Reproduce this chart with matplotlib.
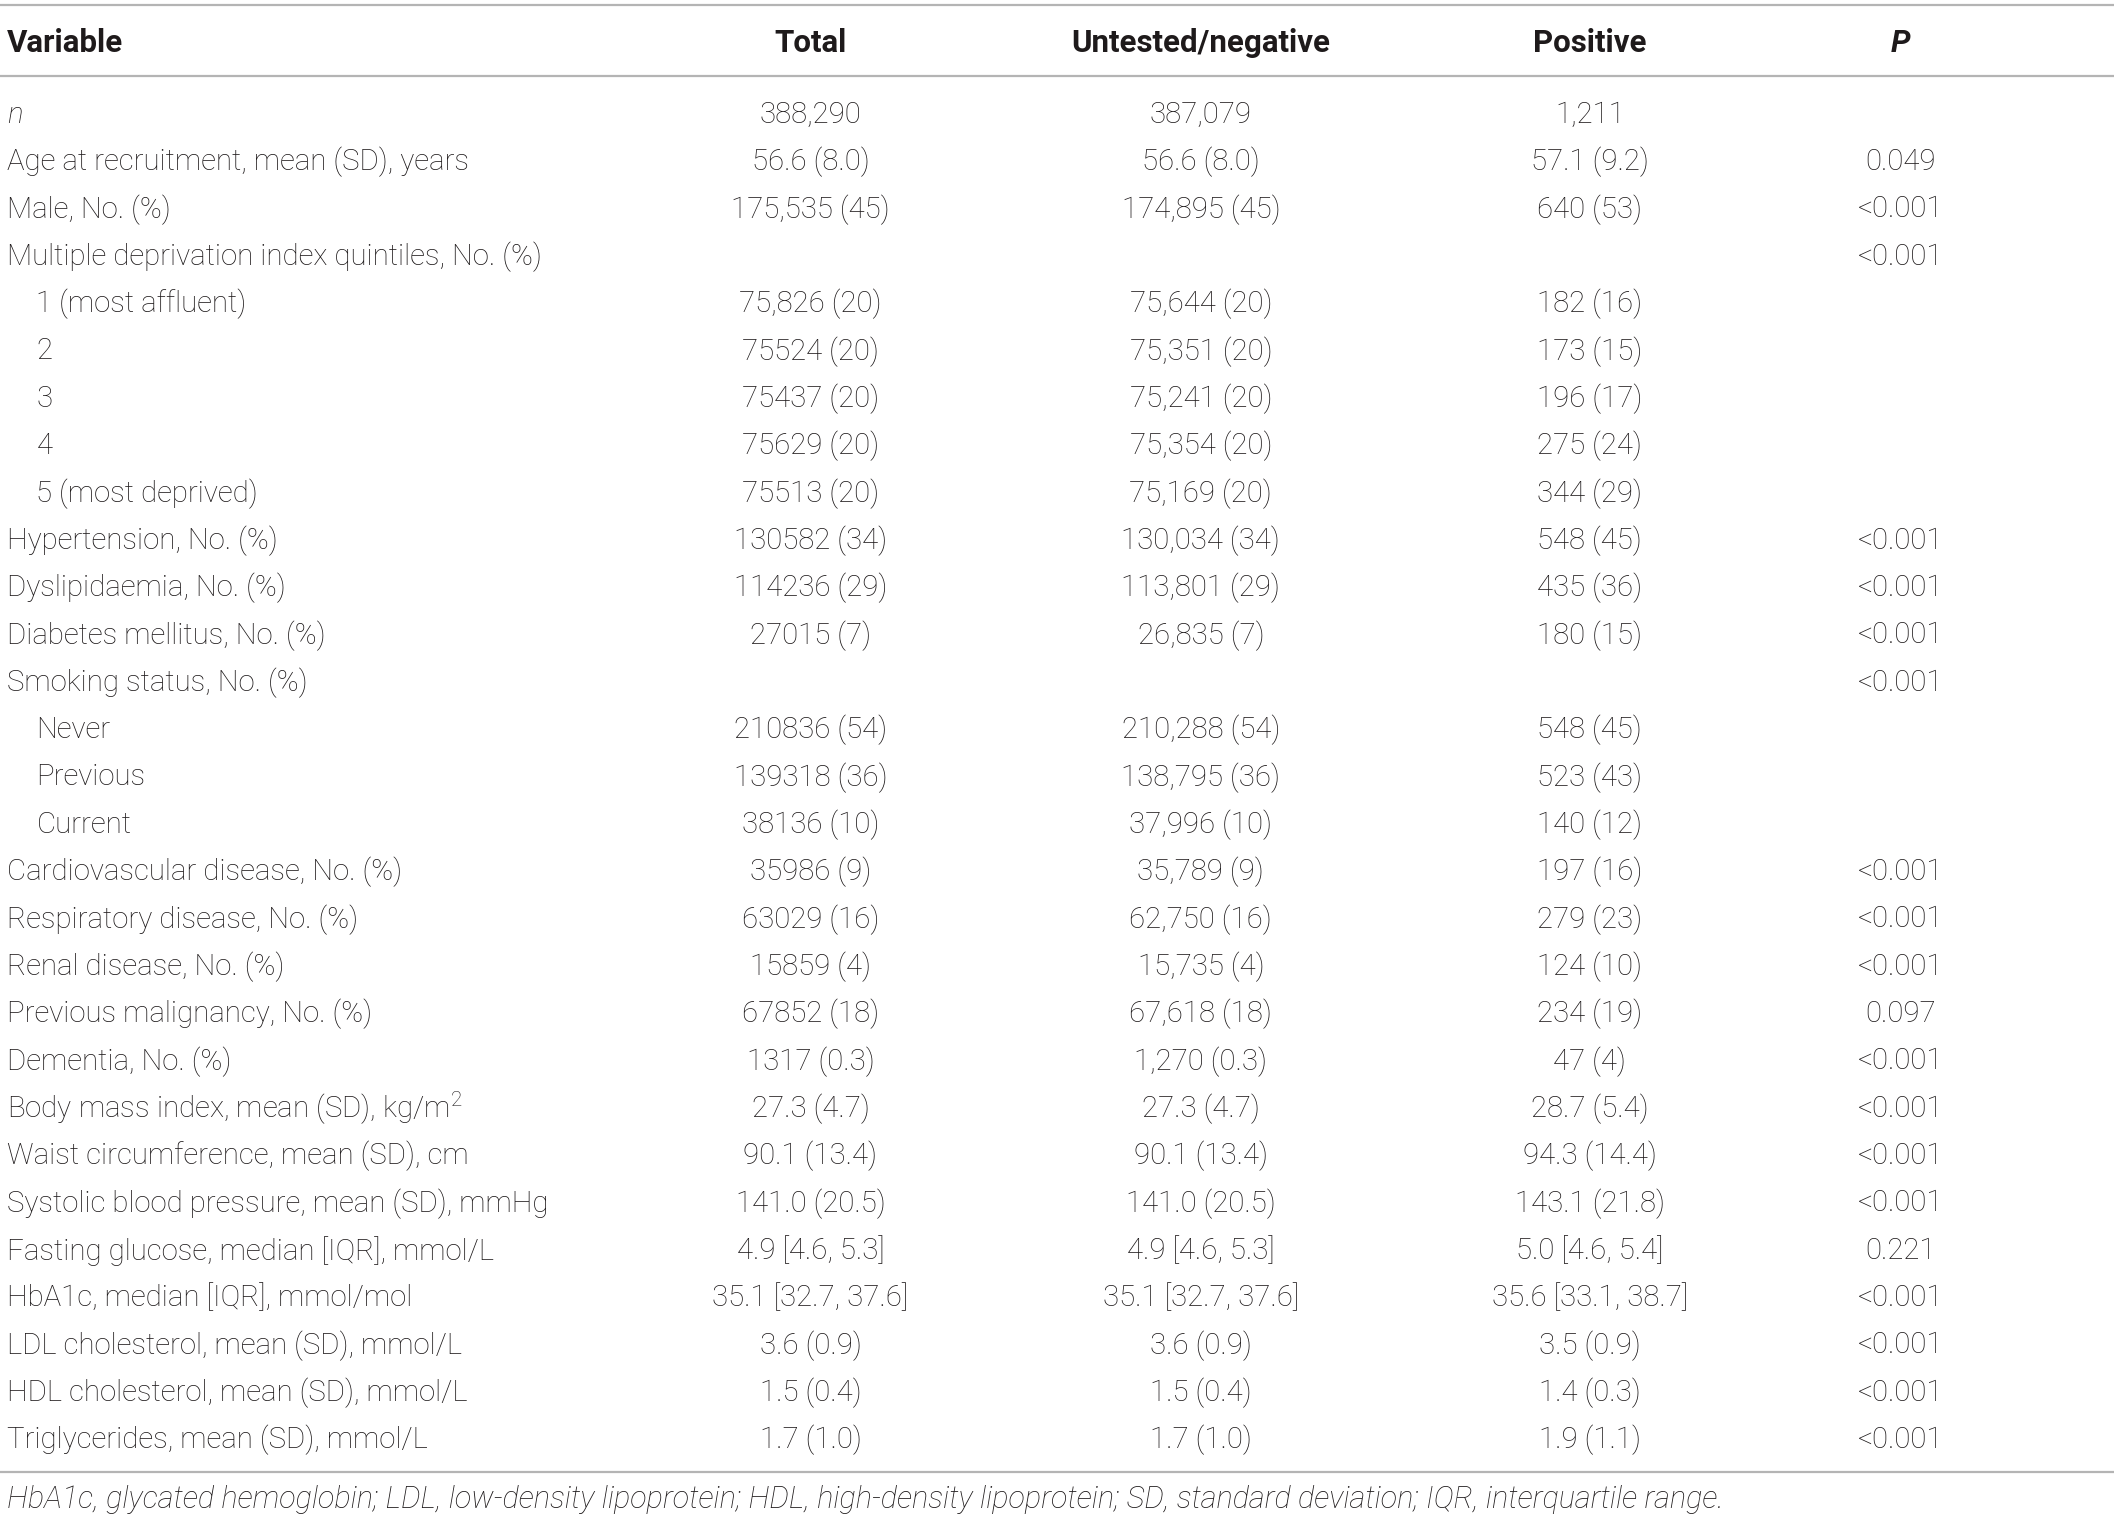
import matplotlib.pyplot as plt

# table content
headers = ["Variable", "Total", "Untested/negative", "Positive", "P"]

variables = [
    "n", "Age at recruitment, mean (SD), years", "Male, No. (%)",
    "Multiple deprivation index quintiles, No. (%)",
    "1 (most affluent)", "2", "3", "4", "5 (most deprived)",
    "Hypertension, No. (%)", "Dyslipidaemia, No. (%)", "Diabetes mellitus, No. (%)",
    "Smoking status, No. (%)", "Never", "Previous", "Current",
    "Cardiovascular disease, No. (%)", "Respiratory disease, No. (%)",
    "Renal disease, No. (%)", "Previous malignancy, No. (%)", "Dementia, No. (%)",
    "Body mass index, mean (SD), kg/m$^2$", "Waist circumference, mean (SD), cm",
    "Systolic blood pressure, mean (SD), mmHg", "Fasting glucose, median [IQR], mmol/L",
    "HbA1c, median [IQR], mmol/mol", "LDL cholesterol, mean (SD), mmol/L",
    "HDL cholesterol, mean (SD), mmol/L", "Triglycerides, mean (SD), mmol/L",
]
sub_rows = ["1 (most affluent)", "2", "3", "4", "5 (most deprived)",
            "Never", "Previous", "Current"]

total = [
    "388,290", "56.6 (8.0)", "175,535 (45)", "",
    "75,826 (20)", "75524 (20)", "75437 (20)", "75629 (20)", "75513 (20)",
    "130582 (34)", "114236 (29)", "27015 (7)", "",
    "210836 (54)", "139318 (36)", "38136 (10)",
    "35986 (9)", "63029 (16)", "15859 (4)", "67852 (18)", "1317 (0.3)",
    "27.3 (4.7)", "90.1 (13.4)", "141.0 (20.5)", "4.9 [4.6, 5.3]",
    "35.1 [32.7, 37.6]", "3.6 (0.9)", "1.5 (0.4)", "1.7 (1.0)",
]
untested = [
    "387,079", "56.6 (8.0)", "174,895 (45)", "",
    "75,644 (20)", "75,351 (20)", "75,241 (20)", "75,354 (20)", "75,169 (20)",
    "130,034 (34)", "113,801 (29)", "26,835 (7)", "",
    "210,288 (54)", "138,795 (36)", "37,996 (10)",
    "35,789 (9)", "62,750 (16)", "15,735 (4)", "67,618 (18)", "1,270 (0.3)",
    "27.3 (4.7)", "90.1 (13.4)", "141.0 (20.5)", "4.9 [4.6, 5.3]",
    "35.1 [32.7, 37.6]", "3.6 (0.9)", "1.5 (0.4)", "1.7 (1.0)",
]
positive = [
    "1,211", "57.1 (9.2)", "640 (53)", "",
    "182 (16)", "173 (15)", "196 (17)", "275 (24)", "344 (29)",
    "548 (45)", "435 (36)", "180 (15)", "",
    "548 (45)", "523 (43)", "140 (12)",
    "197 (16)", "279 (23)", "124 (10)", "234 (19)", "47 (4)",
    "28.7 (5.4)", "94.3 (14.4)", "143.1 (21.8)", "5.0 [4.6, 5.4]",
    "35.6 [33.1, 38.7]", "3.5 (0.9)", "1.4 (0.3)", "1.9 (1.1)",
]
pvals = [
    "", "0.049", "<0.001", "<0.001",
    "", "", "", "", "",
    "<0.001", "<0.001", "<0.001", "<0.001",
    "", "", "",
    "<0.001", "<0.001", "<0.001", "0.097", "<0.001",
    "<0.001", "<0.001", "<0.001", "0.221",
    "<0.001", "<0.001", "<0.001", "<0.001",
]
footnote = ("HbA1c, glycated hemoglobin; LDL, low-density lipoprotein; HDL, high-density "
            "lipoprotein; SD, standard deviation; IQR, interquartile range.")

plt.rcParams['font.family'] = ['Roboto', 'DejaVu Sans']
plt.rcParams['mathtext.fontset'] = 'custom'
plt.rcParams['mathtext.rm'] = 'Roboto:light'
txt = '#1e1a1b'
fs = 21.2

fig = plt.figure(figsize=(21.18, 15.21), dpi=100)
ax = fig.add_axes([0, 0, 1, 1])
ax.set_xlim(0, 1568)
ax.set_ylim(1126, 0)
ax.axis('off')

col_x = [5, 600, 889, 1177, 1407]
row0, step = 85, 35.04

# rules
for y in [4, 56, 1090]:
    ax.plot([0, 1565], [y, y], color='#b4b4b4', lw=1.6, solid_capstyle='butt')

# header
ax.text(col_x[0], 32, headers[0], ha='left', va='center', fontsize=22.5,
        fontweight='bold', color=txt)
for x, h in zip(col_x[1:4], headers[1:4]):
    ax.text(x, 32, h, ha='center', va='center', fontsize=22.5, fontweight='bold', color=txt)
ax.text(col_x[4], 32, headers[4], ha='center', va='center', fontsize=22.5,
        fontweight='bold', fontstyle='italic', color=txt)

# body
for i, name in enumerate(variables):
    y = row0 + i * step
    x0 = col_x[0] + (22 if name in sub_rows else 0)
    ax.text(x0, y, name, ha='left', va='center', fontsize=fs, fontweight='light',
            fontstyle='italic' if name == 'n' else 'normal', color=txt)
    for x, col in zip(col_x[1:], [total, untested, positive, pvals]):
        if col[i]:
            ax.text(x, y, col[i], ha='center', va='center', fontsize=fs,
                    fontweight='light', color=txt)

ax.text(col_x[0], 1110, footnote, ha='left', va='center', fontsize=22.1,
        fontweight='light', fontstyle='italic', color=txt)

fig.savefig('out.png', dpi=100)
